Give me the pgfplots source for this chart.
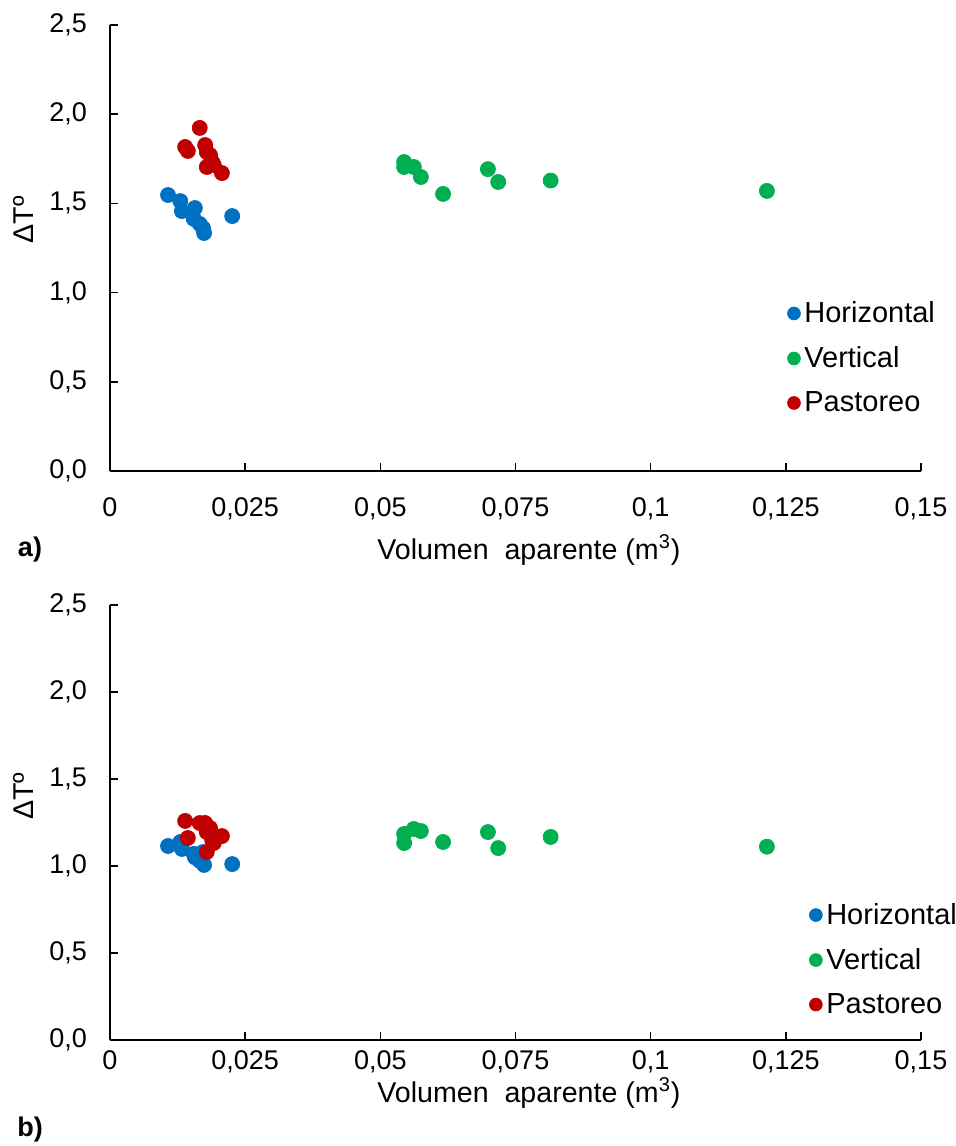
\documentclass[border=0pt]{standalone}
\usepackage{pgfplots}
\pgfplotsset{compat=1.18}
\usepackage{fontspec}
\setmainfont{Liberation Sans}
\definecolor{cblue}{HTML}{0070C0}
\definecolor{cgreen}{HTML}{00B050}
\definecolor{cred}{HTML}{C00000}
\pgfplotsset{
  myaxis/.style={
    scale only axis,
    width=405.5pt,
    xmin=0, xmax=0.15, ymin=0, ymax=2.5,
    axis lines*=left,
    axis line style={line width=0.8pt, black},
    tick style={line width=0.8pt, black},
    major tick length=4pt,
    tick align=inside,
    xtick={0,0.025,0.05,0.075,0.1,0.125,0.15},
    xticklabels={0,{0,025},{0,05},{0,075},{0,1},{0,125},{0,15}},
    ytick={0,0.5,1,1.5,2,2.5},
    yticklabels={{0,0},{0,5},{1,0},{1,5},{2,0},{2,5}},
    every tick label/.append style={font=\fontsize{13.5}{16}\selectfont},
    /pgf/number format/assume math mode=true,
    yticklabel style={xshift=-8pt},
    label style={font=\fontsize{14.3}{17}\selectfont},
    ylabel={ΔTº},
    legend cell align=left,
    legend style={draw=none, fill=none, font=\fontsize{14.5}{17}\selectfont, inner sep=0pt, row sep=6.5pt},
    legend image code/.code={\draw[#1, mark size=3.2pt] plot coordinates {(0pt,0pt)};},
    every axis plot/.append style={only marks, mark=*, mark size=3.75pt},
  }
}
\begin{document}
\begin{tikzpicture}
\useasboundingbox (-55pt,-53pt) rectangle (422.5pt,520pt);
% panel a
\begin{axis}[myaxis, at={(0pt,284.5pt)}, anchor=south west, height=223pt,
  xticklabel style={yshift=-10pt},
  xlabel={Volumen\ \ aparente (m\textsuperscript{3})},
  xlabel style={at={(axis description cs:0.5166,0)}, anchor=center, yshift=-39.5pt},
  ylabel style={at={(axis description cs:-0.107,0.563)}, anchor=center},
  legend style={at={(axis description cs:0.835,0.39)}, anchor=north west},
]
\addplot[cblue, mark options={fill=cblue, draw=cblue}] coordinates {
(0.01073,1.547) (0.0130,1.513) (0.0133,1.457) (0.0157,1.474) (0.0155,1.413)
(0.0166,1.385) (0.0172,1.362) (0.0174,1.334) (0.0226,1.429)};
\addlegendentry{Horizontal}
\addplot[cgreen, mark options={fill=cgreen, draw=cgreen}] coordinates {
(0.0544,1.732) (0.0544,1.704) (0.0562,1.704) (0.0575,1.648) (0.0616,1.553)
(0.0699,1.692) (0.0718,1.620) (0.0815,1.628) (0.1215,1.570)};
\addlegendentry{Vertical}
\addplot[cred, mark options={fill=cred, draw=cred}] coordinates {
(0.0166,1.923) (0.0139,1.816) (0.0144,1.794) (0.0176,1.827) (0.0179,1.788)
(0.0185,1.771) (0.0189,1.732) (0.0192,1.715) (0.0179,1.704) (0.0207,1.670)};
\addlegendentry{Pastoreo}
\end{axis}
% panel b
\begin{axis}[myaxis, at={(0pt,0pt)}, anchor=south west, height=217.5pt,
  xticklabel style={yshift=-2pt},
  xlabel={Volumen\ \ aparente (m\textsuperscript{3})},
  xlabel style={at={(axis description cs:0.5166,0)}, anchor=center, yshift=-26.5pt},
  ylabel style={at={(axis description cs:-0.107,0.56)}, anchor=center},
  legend style={at={(axis description cs:0.862,0.325)}, anchor=north west},
]
\addplot[cblue, mark options={fill=cblue, draw=cblue}] coordinates {
(0.01073,1.115) (0.0130,1.138) (0.0133,1.098) (0.0157,1.05) (0.0155,1.07)
(0.0166,1.03) (0.0174,1.006) (0.0172,1.08) (0.0226,1.011)};
\addlegendentry{Horizontal}
\addplot[cgreen, mark options={fill=cgreen, draw=cgreen}] coordinates {
(0.0544,1.184) (0.0544,1.132) (0.0562,1.213) (0.0575,1.201) (0.0616,1.138)
(0.0699,1.195) (0.0718,1.103) (0.0815,1.167) (0.1215,1.111)};
\addlegendentry{Vertical}
\addplot[cred, mark options={fill=cred, draw=cred}] coordinates {
(0.0166,1.247) (0.0139,1.259) (0.0144,1.161) (0.0176,1.247) (0.0179,1.195)
(0.0185,1.218) (0.0189,1.149) (0.0192,1.132) (0.0179,1.080) (0.0207,1.172)};
\addlegendentry{Pastoreo}
\end{axis}
\node[font=\bfseries\fontsize{13.5}{16}\selectfont, anchor=center] at (-40pt,245pt) {a)};
\node[font=\bfseries\fontsize{13.5}{16}\selectfont, anchor=center] at (-40pt,-45pt) {b)};
\end{tikzpicture}
\end{document}
